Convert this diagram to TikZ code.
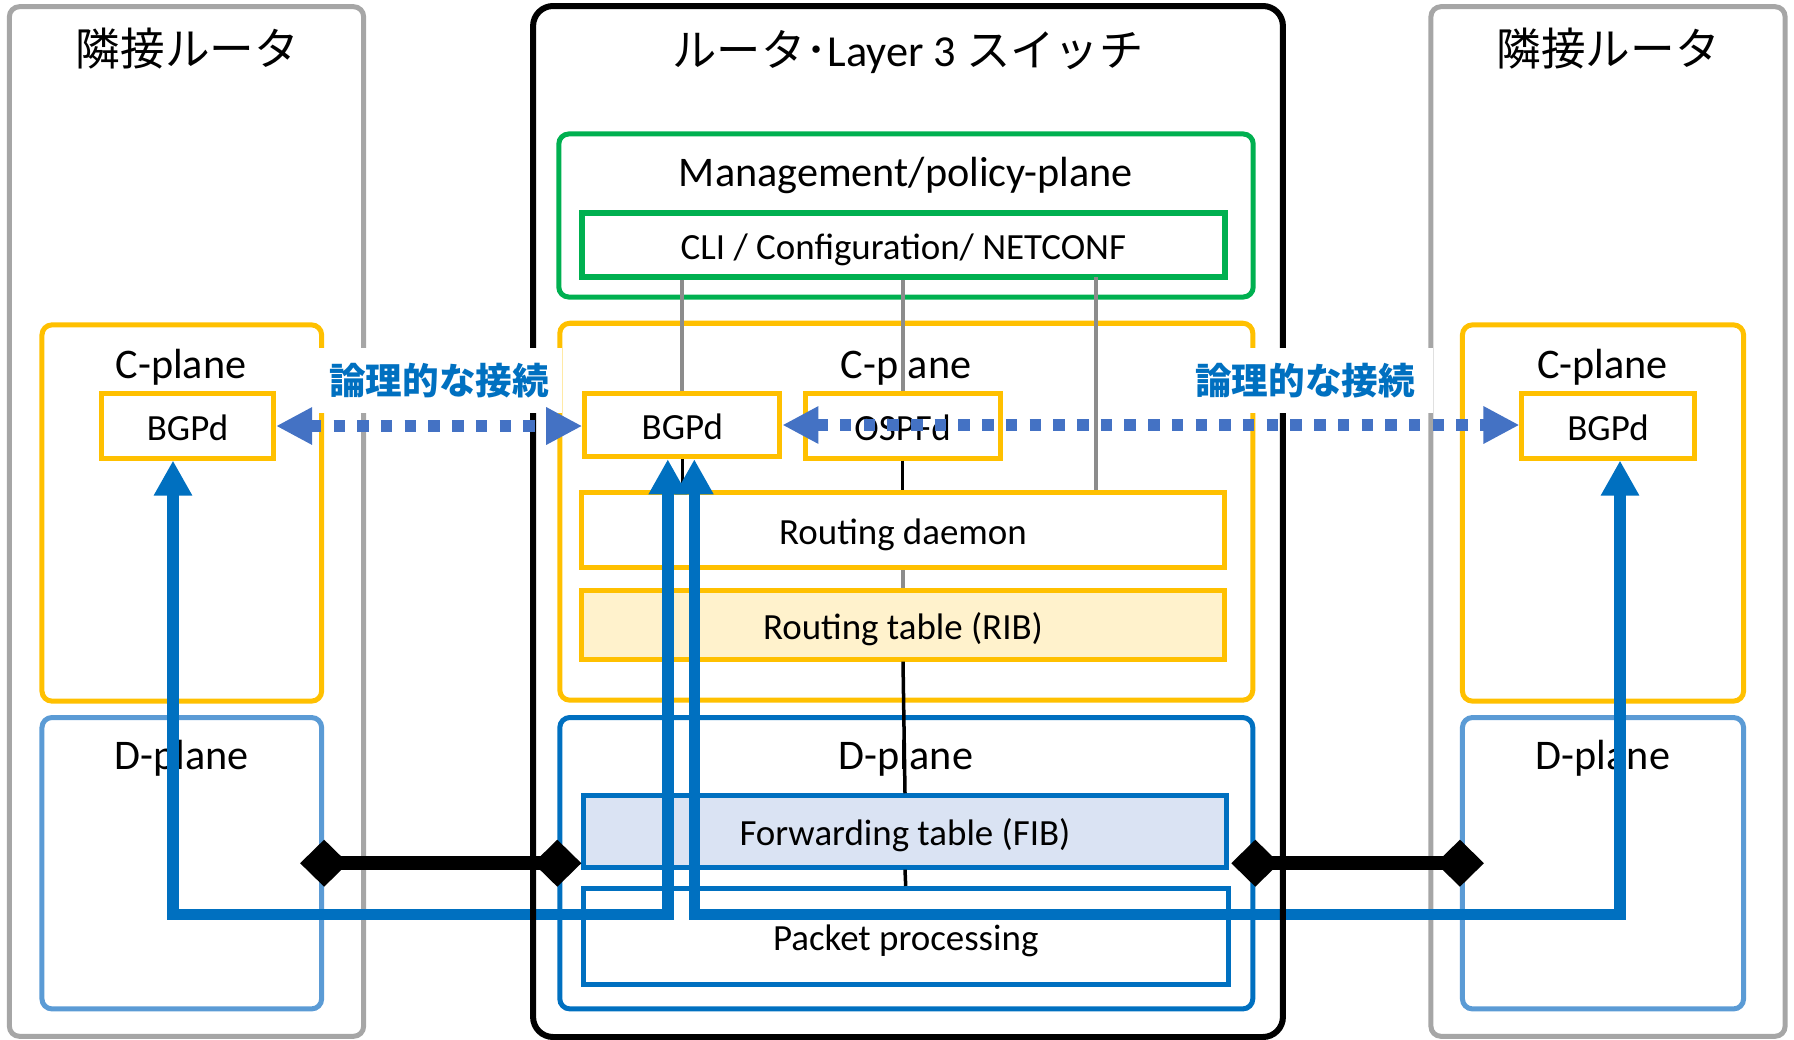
\documentclass[tikz,border=0pt]{standalone}
\usepackage{fontspec}
\setmainfont{Carlito}
\newfontfamily\jp{Noto Sans CJK JP}
\usepackage{xcolor}
\usepackage{tikz}
\usetikzlibrary{arrows.meta}

\definecolor{nbrgrey}{HTML}{A6A6A6}
\definecolor{linegrey}{HTML}{8C8C8C}
\definecolor{mgmtgreen}{HTML}{00B050}
\definecolor{cyellow}{HTML}{FFC000}
\definecolor{dblue}{HTML}{0070C0}
\definecolor{dlight}{HTML}{5B9BD5}
\definecolor{linkblue}{HTML}{4472C4}
\definecolor{ribfill}{HTML}{FFF2CC}
\definecolor{fibfill}{HTML}{DAE3F3}

\begin{document}
\begin{tikzpicture}[x=0.01cm, y=-0.01cm,
  nbr/.style={draw=nbrgrey, line width=0.05cm, rounded corners=0.1cm, inner sep=0pt,
    minimum width=3.54cm, minimum height=10.29cm},
  plane/.style={line width=0.05cm, rounded corners=0.1cm, inner sep=0pt},
  boxtxt/.style={inner sep=0pt, line width=0.05cm, text height=8pt, text depth=0pt,
    font=\fontsize{10.5}{12}\selectfont},
  head/.style={inner sep=0pt, font=\fontsize{12}{14}\selectfont},
  jphead/.style={inner sep=0pt, font=\jp\fontsize{12.7}{15}\selectfont},
  logic/.style={inner sep=0pt, fill=white, text=dblue, minimum height=0.65cm,
    font=\jp\bfseries\fontsize{10.4}{12}\selectfont},
  mgmtline/.style={draw=linegrey, line width=0.04cm},
  inline/.style={draw=black, line width=0.035cm},
  ctrl/.style={draw=linkblue, line width=0.115cm, dash pattern=on 0.115cm off 0.122cm,
    {Triangle[length=0.36cm,width=0.35cm]}-{Triangle[length=0.36cm,width=0.35cm]}},
  phys/.style={draw=black, line width=0.14cm,
    {Diamond[length=0.48cm,width=0.47cm]}-{Diamond[length=0.48cm,width=0.47cm]},
    shorten <=-0.24cm, shorten >=-0.24cm},
  bgpflow/.style={draw=dblue, line width=0.115cm,
    {Triangle[length=0.35cm,width=0.36cm]}-{Triangle[length=0.35cm,width=0.36cm]}}]

  \useasboundingbox (0,0) rectangle (1794,1039);

  % -- neighbour routers ---------------------------------------------------
  \node[nbr] (nbrL) at (186.5,521.5) {};
  \node[nbr] (nbrR) at (1608,521.5) {};
  \node[jphead] (nbrLtxt) at (187.5,49) {隣接ルータ};
  \node[jphead] (nbrRtxt) at (1608,49) {隣接ルータ};

  % -- the router itself (frame is drawn later, over the wires) -----------
  \node[inner sep=0pt, minimum width=7.48cm, minimum height=10.29cm] (main) at (908,521.5) {};
  \node[head, font=\fontsize{12.6}{15}\selectfont] (maintxt) at (908,52) {{\jp ルータ･}Layer 3 {\jp スイッチ}};

  % -- management plane ----------------------------------------------------
  \node[plane, draw=mgmtgreen, minimum width=6.94cm, minimum height=1.63cm] (mgmt) at (906,215.5) {};
  \node[head] (mgmttxt) at (906,175) {Management/policy-plane};
  \node[boxtxt, draw=mgmtgreen, line width=0.06cm, minimum width=6.42cm, minimum height=0.634cm]
    (cli) at (903.4,245) {CLI / Configuration/ NETCONF};

  % -- C-planes -------------------------------------------------------------
  \node[plane, draw=cyellow, minimum width=2.795cm, minimum height=3.76cm] (cplL) at (181.8,513) {};
  \node[plane, draw=cyellow, minimum width=6.926cm, minimum height=3.767cm] (cplC) at (906.3,511.7) {};
  \node[plane, draw=cyellow, minimum width=2.81cm, minimum height=3.76cm] (cplR) at (1603,513) {};
  \node[head] (cplLtxt) at (181,367) {C-plane};
  \node[head] (cplCtxt) at (906,367) {C-plane};
  \node[head] (cplRtxt) at (1602.5,367) {C-plane};

  \node[boxtxt, draw=cyellow, minimum width=1.72cm, minimum height=0.64cm] (bgpL) at (187.5,426) {BGPd};
  \node[boxtxt, draw=cyellow, minimum width=1.95cm, minimum height=0.634cm] (bgpC) at (682.3,425) {BGPd};
  \node[boxtxt, draw=cyellow, minimum width=1.95cm, minimum height=0.64cm] (ospf) at (902.6,426) {OSPFd};
  \node[boxtxt, draw=cyellow, minimum width=1.72cm, minimum height=0.64cm] (bgpR) at (1608,426) {BGPd};
  \node[boxtxt, draw=cyellow, minimum width=6.43cm, minimum height=0.75cm] (rd) at (903,530) {Routing daemon};
  \node[boxtxt, draw=cyellow, fill=ribfill, minimum width=6.43cm, minimum height=0.68cm] (rib) at (903,625) {Routing table (RIB)};

  % -- D-planes -------------------------------------------------------------
  \node[plane, draw=dlight, minimum width=2.795cm, minimum height=2.912cm] (dplL) at (181.8,863.2) {};
  \node[plane, draw=dblue, minimum width=6.926cm, minimum height=2.912cm] (dplC) at (906.3,863.2) {};
  \node[plane, draw=dlight, minimum width=2.81cm, minimum height=2.912cm] (dplR) at (1603,863.2) {};
  \node[head] (dplLtxt) at (182,758) {D-plane};
  \node[head] (dplCtxt) at (906,758) {D-plane};
  \node[head] (dplRtxt) at (1603,758) {D-plane};

  \node[boxtxt, draw=dblue, fill=fibfill, minimum width=6.43cm, minimum height=0.713cm] (fib) at (905,831.4) {Forwarding table (FIB)};
  \node[boxtxt, draw=dblue, minimum width=6.446cm, minimum height=0.962cm] (pp) at (905.7,936.6) {Packet processing};

  % -- wiring inside the router --------------------------------------------
  \coordinate (cliTap) at (1096,277);
  \draw[mgmtline] (cli.south -| bgpC) -- (bgpC.north);
  \draw[mgmtline] (cli.south -| ospf) -- (ospf.north);
  \draw[mgmtline] (cliTap) -- (cliTap |- rd.north);
  \draw[inline] (bgpC.south) -- (bgpC.south |- rd.north);
  \draw[inline] (ospf.south) -- (ospf.south |- rd.north);
  \draw[mgmtline] (rd.south) -- (rib.north);
  \draw[inline] (rib.south) -- (fib.north);
  \draw[inline] (fib.south) -- (pp.north);

  % -- BGP packets really travel through the D-planes ----------------------
  \coordinate (wire) at (0,914.6);
  \draw[bgpflow] ([xshift=-0.145cm]bgpL.south) -- ([xshift=-0.145cm]bgpL.south |- wire)
    -| ([xshift=-0.145cm]bgpC.south);
  \draw[bgpflow] ([xshift=0.12cm]bgpC.south) -- ([xshift=0.12cm]bgpC.south |- wire)
    -| ([xshift=0.12cm]bgpR.south);

  \draw[line width=0.06cm, rounded corners=0.2cm] (main.south west) rectangle (main.north east);

  % -- logical sessions ------------------------------------------------------
  \node[logic, minimum width=2.46cm] (logicL) at (439,380.5) {論理的な接続};
  \node[logic, minimum width=2.55cm] (logicR) at (1305,380.5) {論理的な接続};
  \draw[ctrl] (bgpL.east) -- (bgpL.east -| bgpC.west);
  \draw[ctrl] (bgpC.east) -- (bgpC.east -| bgpR.west);

  % -- physical links --------------------------------------------------------
  \draw[phys] (dplL.east) -- (dplC.west);
  \draw[phys] (dplC.east) -- (dplR.west);

\end{tikzpicture}
\end{document}
